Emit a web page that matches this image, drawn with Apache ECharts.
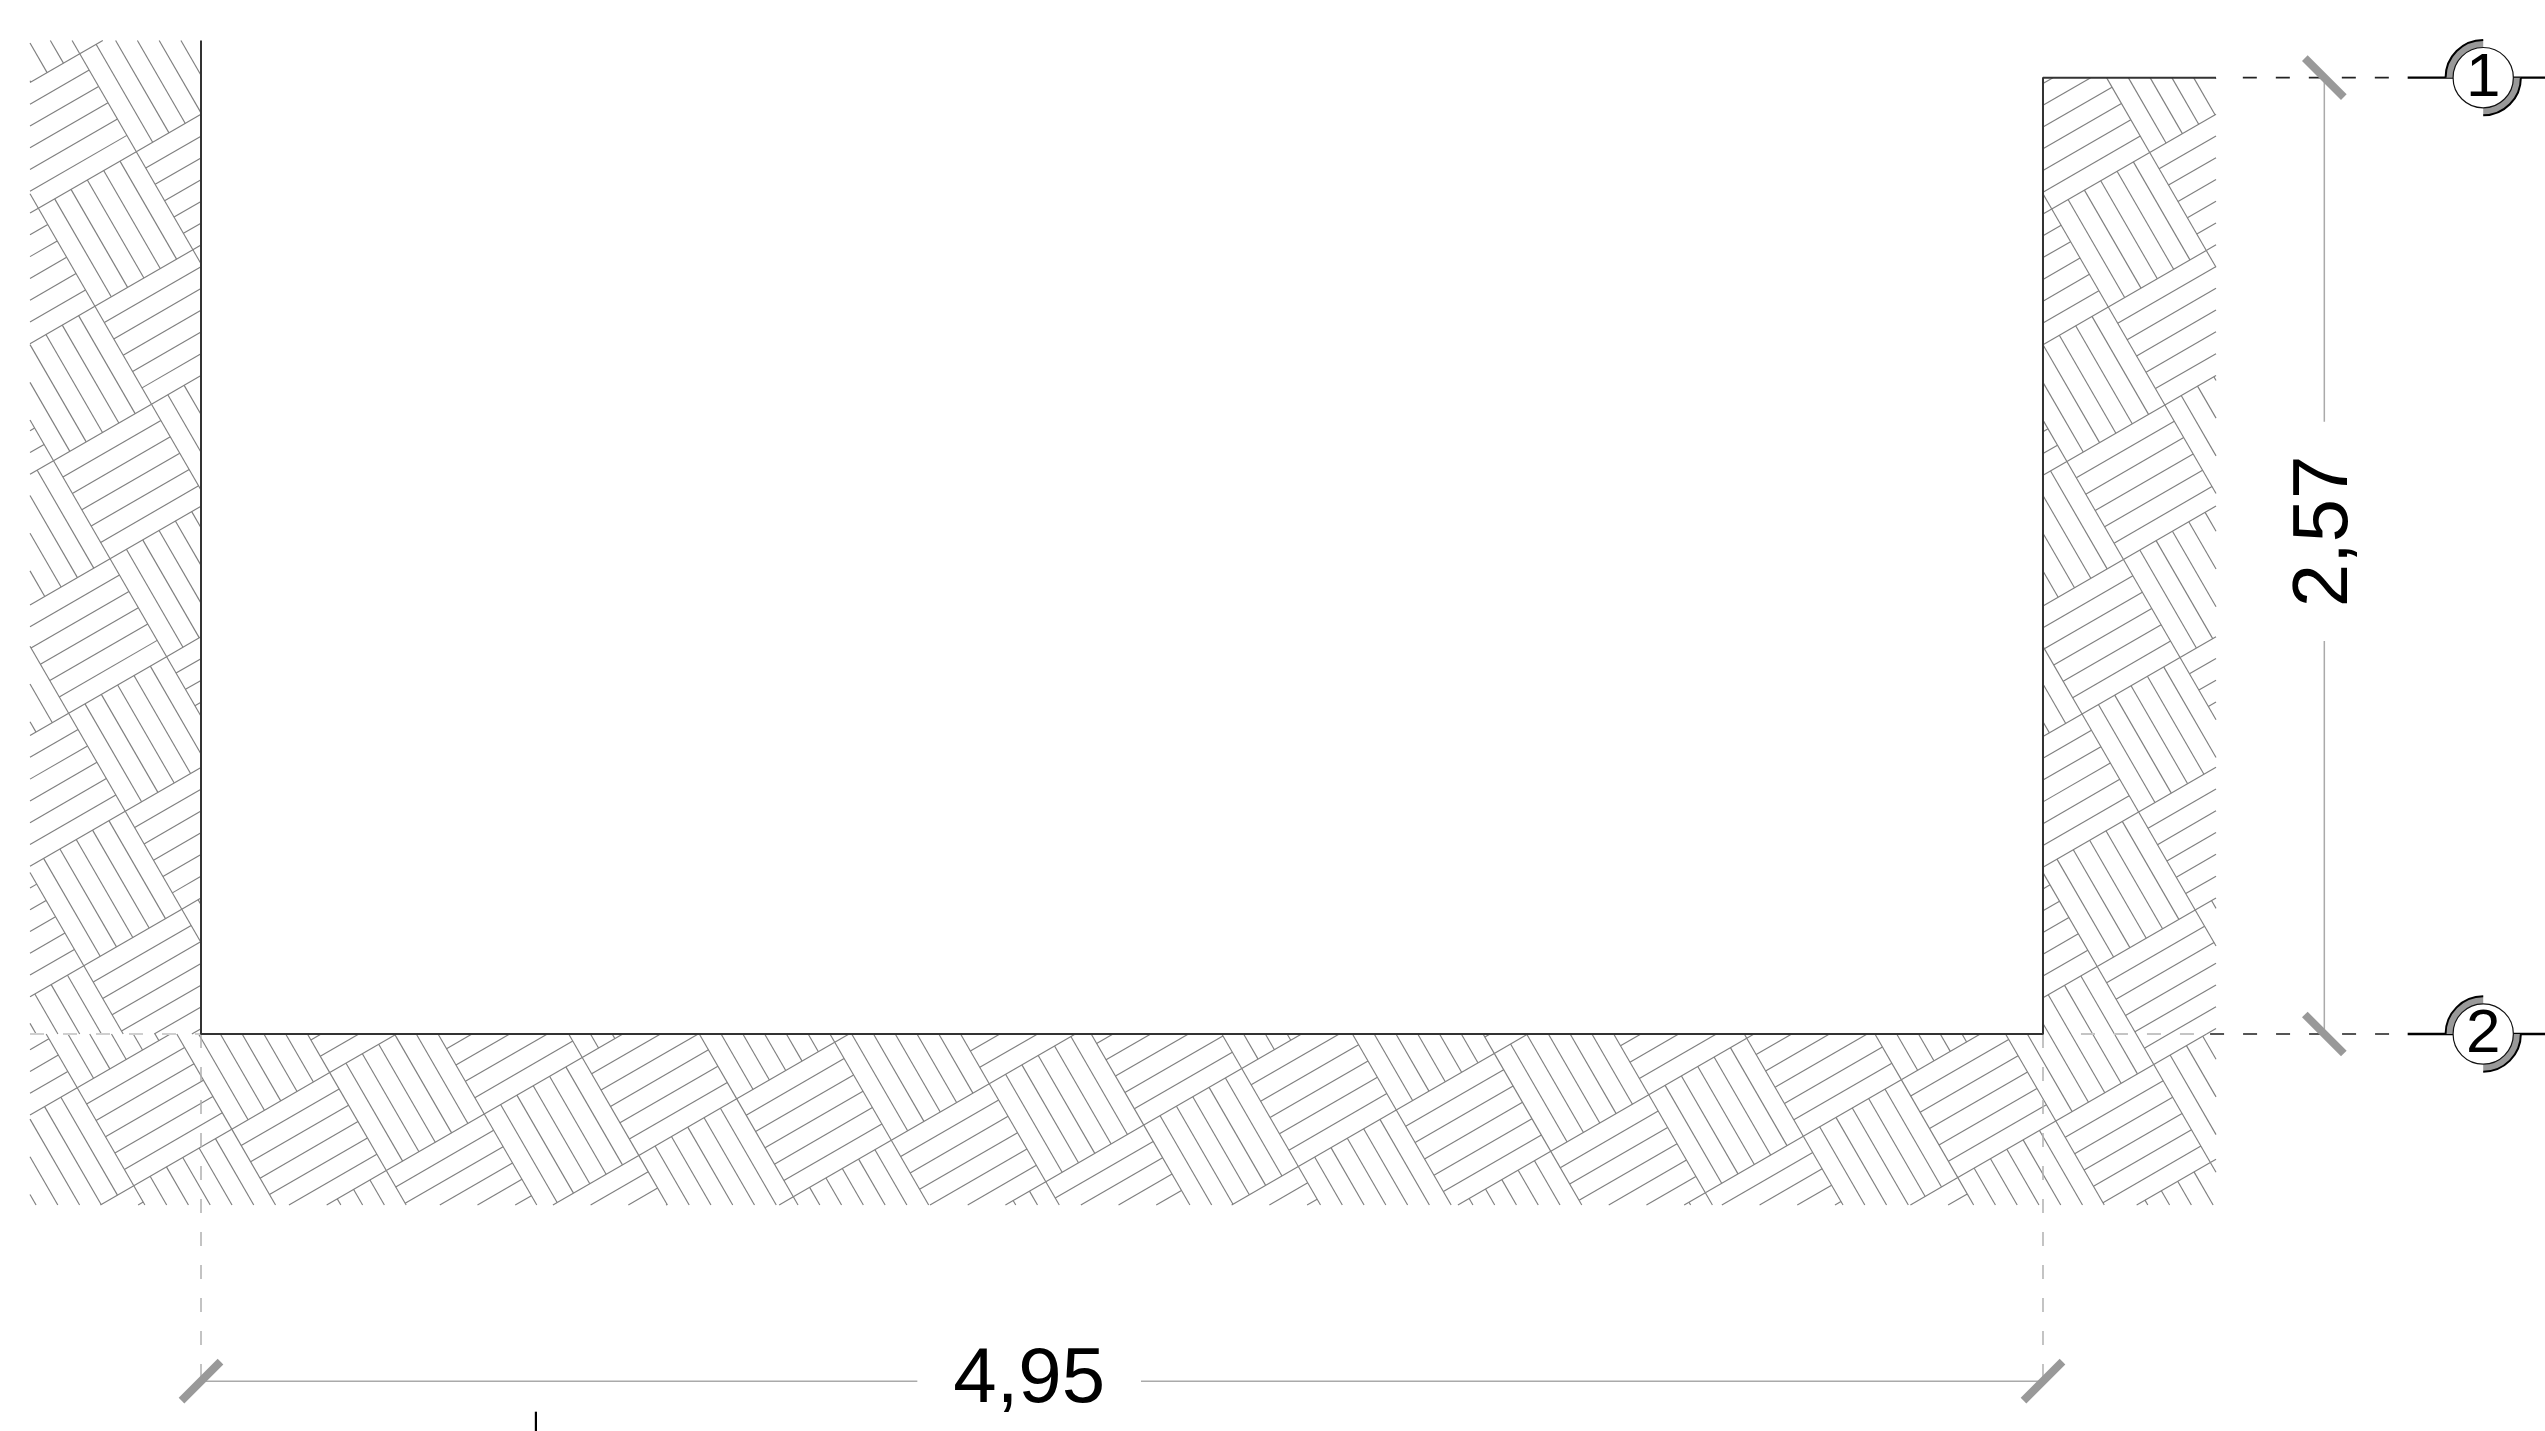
<!DOCTYPE html>
<html><head><meta charset="utf-8">
<style>html,body{margin:0;padding:0;background:#fff;overflow:hidden}#c{width:2545px;height:1431px}</style>
<script src="https://cdn.jsdelivr.net/npm/echarts@6/dist/echarts.min.js"></script>
</head><body><div id="c"></div>
<script>
// Plan dimensions, all in metres; origin = inner bottom-left corner of the room
const roomWidth = 4.95, roomHeight = 2.57;
const dimLabels = ['4,95', '2,57'];
const gridLabels = ['1', '2'];
const wallOutline = [[0, 2.67], [0, 0], [4.95, 0], [4.95, 2.57], [5.415, 2.57]];
const hatchLeft = [-0.4595, 0, 0, 2.67];
const hatchBottom = [-0.4595, -0.4595, 5.415, 0];
const hatchRight = [4.95, 0, 5.415, 2.57];
const tileSize = 0.304, planksPerTile = 6, hatchAngleDeg = 30;
const originLeft = [-0.1738, 2.371], originShared = [5.2368, 2.369];
const dimY = -0.933, dimX = 5.706;
const dimGapX = [1.925, 2.526], dimGapY = [1.056, 1.645];
const gridX = 6.133, gridLeadEnd = 5.93, gridR = 0.081;
const tickHalf = 0.0524;
const extTop = [5.487, 5.88], extBottomLight = [5.052, 5.399], extBottomDark = [5.399, 5.88], extLeft = [-0.4595, 0];
const markX = 0.9, markY = [-1.015, -1.067];

const pxPerM = 372.12;
const x0 = 201, y0 = 1034;
const W = 2545, H = 1431;

function clip(p, q, r) {
  let t0 = 0, t1 = 1;
  const dx = q[0] - p[0], dy = q[1] - p[1];
  const tests = [[-dx, p[0] - r[0]], [dx, r[2] - p[0]], [-dy, p[1] - r[1]], [dy, r[3] - p[1]]];
  for (const [a, b] of tests) {
    if (a === 0) { if (b < 0) return null; continue; }
    const t = b / a;
    if (a < 0) { if (t > t1) return null; if (t > t0) t0 = t; }
    else { if (t < t0) return null; if (t < t1) t1 = t; }
  }
  return [[p[0] + t0 * dx, p[1] + t0 * dy], [p[0] + t1 * dx, p[1] + t1 * dy]];
}
function hatch(rect, origin) {
  const rad = hatchAngleDeg * Math.PI / 180;
  const u = [Math.cos(rad) * tileSize, Math.sin(rad) * tileSize];
  const v = [Math.sin(rad) * tileSize, -Math.cos(rad) * tileSize];
  const pt = (a, b) => [origin[0] + a * u[0] + b * v[0], origin[1] + a * u[1] + b * v[1]];
  const out = [];
  const add = (p, q) => { const s = clip(p, q, rect); if (s && (s[0][0] !== s[1][0] || s[0][1] !== s[1][1])) out.push(s); };
  for (let a = -40; a <= 40; a++) for (let b = -40; b <= 40; b++) {
    add(pt(a, b), pt(a + 1, b));
    add(pt(a, b), pt(a, b + 1));
    const vPlanks = ((a + b) % 2 + 2) % 2 === 1;
    for (let k = 1; k < planksPerTile; k++) {
      const f = k / planksPerTile;
      if (vPlanks) add(pt(a + f, b), pt(a + f, b + 1));
      else add(pt(a, b + f), pt(a + 1, b + f));
    }
  }
  return out;
}
const hatchSegments = [].concat(hatch(hatchLeft, originLeft), hatch(hatchBottom, originShared), hatch(hatchRight, originShared));

const plain = (name, data, color, width, type, z) => ({
  name, type: 'line', data, showSymbol: false, silent: true, animation: false, z: z || 3,
  lineStyle: { color, width, type: type || 'solid', cap: 'butt' }
});
const dash = [14, 19];
const chart = echarts.init(document.getElementById('c'), null, { width: W, height: H, renderer: 'canvas' });
chart.setOption({
  animation: false,
  backgroundColor: '#fff',
  grid: { left: 0, right: 0, top: 0, bottom: 0 },
  xAxis: { type: 'value', show: false, min: -x0 / pxPerM, max: (W - x0) / pxPerM, splitLine: { show: false } },
  yAxis: { type: 'value', show: false, min: -(H - y0) / pxPerM, max: y0 / pxPerM, splitLine: { show: false } },
  series: [
    { name: 'hatch', type: 'custom', silent: true, animation: false, z: 1, clip: false,
      data: hatchSegments.map(s => [s[0][0], s[0][1], s[1][0], s[1][1]]),
      renderItem(p, api) {
        const a = api.coord([api.value(0), api.value(1)]), b = api.coord([api.value(2), api.value(3)]);
        return { type: 'line', shape: { x1: a[0], y1: a[1], x2: b[0], y2: b[1] }, style: { stroke: '#7f7f7f', lineWidth: 1.15 } };
      } },
    plain('wall', wallOutline, '#333', 2, 'solid', 4),
    plain('ext top', [[extTop[0], roomHeight], [extTop[1], roomHeight]], '#222', 1.8, dash),
    plain('ext bottom light', [[extBottomLight[0], 0], [extBottomLight[1], 0]], '#c4c4c4', 1.8, dash),
    plain('ext bottom dark', [[extBottomDark[0], 0], [extBottomDark[1], 0]], '#555', 1.8, dash),
    plain('ext left', [[extLeft[0], 0], [extLeft[1], 0]], '#cfcfcf', 1.8, dash),
    plain('ext v1', [[0, 0], [0, dimY]], '#b0b0b0', 1.5, dash),
    plain('ext v2', [[roomWidth, 0], [roomWidth, dimY]], '#b0b0b0', 1.5, dash),
    plain('dim h1', [[0, dimY], [dimGapX[0], dimY]], '#aaa', 1.5),
    plain('dim h2', [[dimGapX[1], dimY], [roomWidth, dimY]], '#aaa', 1.5),
    plain('dim v1', [[dimX, 0], [dimX, dimGapY[0]]], '#aaa', 1.5),
    plain('dim v2', [[dimX, dimGapY[1]], [dimX, roomHeight]], '#aaa', 1.5),
    plain('tick a', [[-tickHalf, dimY - tickHalf], [tickHalf, dimY + tickHalf]], '#999', 8, 'solid', 5),
    plain('tick b', [[roomWidth - tickHalf, dimY - tickHalf], [roomWidth + tickHalf, dimY + tickHalf]], '#999', 8, 'solid', 5),
    plain('tick c', [[dimX - tickHalf, roomHeight + tickHalf], [dimX + tickHalf, roomHeight - tickHalf]], '#999', 8, 'solid', 5),
    plain('tick d', [[dimX - tickHalf, tickHalf], [dimX + tickHalf, -tickHalf]], '#999', 8, 'solid', 5),
    plain('lead 1a', [[gridLeadEnd, roomHeight], [gridX, roomHeight]], '#000', 2.4),
    plain('lead 1b', [[gridX, roomHeight], [6.84, roomHeight]], '#000', 2.4),
    plain('lead 2a', [[gridLeadEnd, 0], [gridX, 0]], '#000', 2.4),
    plain('lead 2b', [[gridX, 0], [6.84, 0]], '#000', 2.4),
    plain('mark', [[markX, markY[0]], [markX, markY[1]]], '#000', 2.2),
    { name: 'grid bubbles', type: 'custom', silent: true, animation: false, z: 6, clip: false,
      data: [[gridX, roomHeight, 0], [gridX, 0, 1]],
      renderItem(p, api) {
        const c = api.coord([api.value(0), api.value(1)]);
        const r = gridR * pxPerM, R = r + 7.5;
        const sec = (s, e) => ({ type: 'sector', shape: { cx: c[0], cy: c[1], r: R, r0: r - 1, startAngle: s, endAngle: e }, style: { fill: '#999' } });
        const arc = (s, e) => ({ type: 'arc', shape: { cx: c[0], cy: c[1], r: R, startAngle: s, endAngle: e }, style: { stroke: '#000', fill: null, lineWidth: 2 } });
        return { type: 'group', children: [
          sec(Math.PI, 1.5 * Math.PI), sec(0, 0.5 * Math.PI),
          arc(Math.PI, 1.5 * Math.PI), arc(0, 0.5 * Math.PI),
          { type: 'circle', shape: { cx: c[0], cy: c[1], r }, style: { fill: '#fff', stroke: '#111', lineWidth: 1.2 } },
          { type: 'text', style: { x: c[0], y: c[1] + 1, text: gridLabels[api.value(2)], fill: '#000', font: '62px "Liberation Sans"', align: 'center', verticalAlign: 'middle' } }
        ] };
      } },
    { name: 'dim labels', type: 'custom', silent: true, animation: false, z: 7, clip: false,
      data: [[(dimGapX[0] + dimGapX[1]) / 2, dimY + 0.003, 0, 0], [dimX + 0.002, (dimGapY[0] + dimGapY[1]) / 2, 1, 1]],
      renderItem(p, api) {
        const c = api.coord([api.value(0), api.value(1)]);
        return { type: 'text', x: c[0], y: c[1], rotation: api.value(3) * Math.PI / 2,
          style: { x: 0, y: 0, text: dimLabels[api.value(2)], fill: '#000', font: '78px "Liberation Sans"', align: 'center', verticalAlign: 'middle' } };
      } }
  ]
});
</script></body></html>
